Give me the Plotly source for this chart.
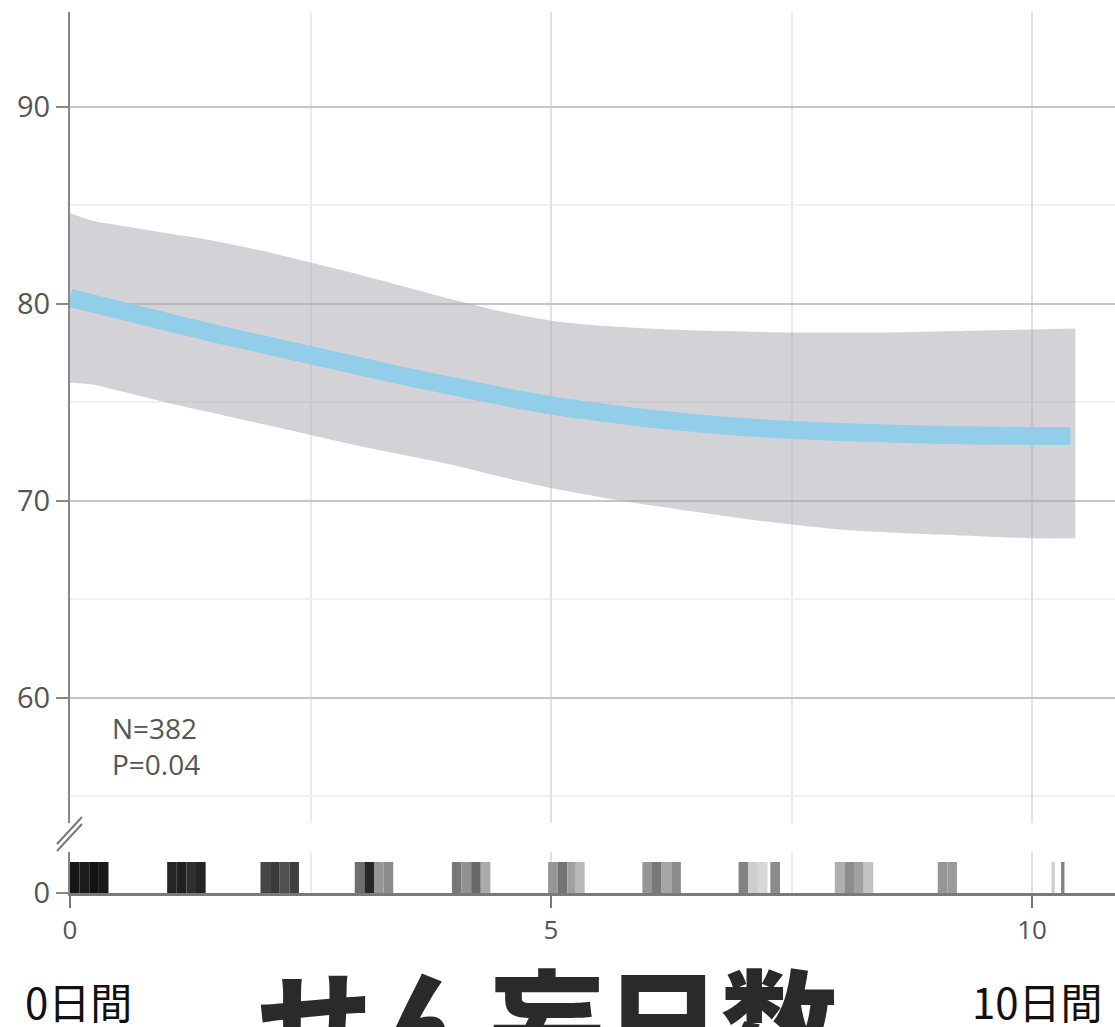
import plotly.graph_objects as go

# Fitted curve (delirium days vs. score) with its confidence band
curve_x = [0, 0.5, 1, 1.5, 2, 2.5, 3, 3.5, 4, 4.5, 5, 5.5, 6, 6.5, 7, 7.5, 8, 8.5, 9, 9.5, 10, 10.4]
curve_y = [80.3, 79.7, 79.1, 78.5, 77.95, 77.4, 76.85, 76.3, 75.8, 75.3, 74.85, 74.5, 74.2, 73.95, 73.75, 73.6, 73.5, 73.42, 73.36, 73.32, 73.3, 73.3]

band_x = [0, 0.25, 0.5, 1, 1.5, 2, 2.5, 3, 3.5, 4, 4.5, 5, 5.5, 6, 6.5, 7, 7.5, 8, 8.5, 9, 9.5, 10, 10.45]
band_upper = [84.6, 84.2, 84.0, 83.6, 83.2, 82.7, 82.1, 81.5, 80.85, 80.2, 79.6, 79.15, 78.9, 78.75, 78.65, 78.6, 78.55, 78.55, 78.55, 78.6, 78.65, 78.7, 78.75]
band_lower = [76.0, 75.9, 75.6, 75.0, 74.45, 73.9, 73.35, 72.8, 72.3, 71.8, 71.2, 70.65, 70.2, 69.8, 69.45, 69.1, 68.8, 68.55, 68.4, 68.3, 68.2, 68.1, 68.1]

# Rug of observed delirium days (strip position, grey level 0=black .. 255=white)
rug_x = [0.05, 0.15, 0.25, 0.35,
         1.06, 1.16, 1.26, 1.36,
         2.03, 2.13, 2.23, 2.33,
         3.01, 3.11, 3.21, 3.31,
         4.02, 4.12, 4.22, 4.32,
         5.02, 5.12, 5.22, 5.30,
         6.00, 6.10, 6.20, 6.30,
         7.00, 7.10, 7.20, 7.33,
         8.00, 8.10, 8.20, 8.30,
         9.07, 9.17,
         10.22, 10.32]
rug_grey = [22, 28, 18, 26,
            38, 32, 48, 36,
            70, 58, 80, 64,
            110, 40, 150, 140,
            120, 145, 105, 170,
            150, 115, 160, 185,
            150, 120, 165, 140,
            130, 205, 215, 140,
            175, 140, 160, 195,
            150, 155,
            205, 130]

y_ticks = [60, 70, 80, 90]
x_ticks = [0, 5, 10]
note_lines = ["N=382", "P=0.04"]
axis_title = "せん妄日数"
x_end_labels = ["0日間", "10日間"]

W, H = 1115, 1027
ML, MT, MB = 70, 12, 134
plot_h = H - MT - MB
plot_w = W - ML


def px(p):
    return (p - ML) / plot_w


def py(p):
    return (H - MB - p) / plot_h


fig = go.Figure()

# confidence band: lower edge, then upper edge filled down to it
fig.add_trace(go.Scatter(
    x=band_x, y=band_lower, mode="lines",
    line=dict(width=0, shape="spline", smoothing=0.6),
    hoverinfo="skip", showlegend=False, xaxis="x", yaxis="y",
))
fig.add_trace(go.Scatter(
    x=band_x, y=band_upper, mode="lines", fill="tonexty",
    fillcolor="rgba(168,168,176,0.5)",
    line=dict(width=0, shape="spline", smoothing=0.6),
    hoverinfo="skip", showlegend=False, xaxis="x", yaxis="y",
))

# fitted curve
fig.add_trace(go.Scatter(
    x=curve_x, y=curve_y, mode="lines",
    line=dict(color="#92cdea", width=18, shape="spline", smoothing=0.8),
    showlegend=False, xaxis="x", yaxis="y",
))

# rug strips
rug_colors = [f"rgb({g},{g},{g})" for g in rug_grey]
rug_widths = [0.1 if x < 10 else 0.035 for x in rug_x]
fig.add_trace(go.Bar(
    x=rug_x, y=[1] * len(rug_x), width=rug_widths,
    marker=dict(color=rug_colors, line=dict(width=0)),
    showlegend=False, xaxis="x", yaxis="y2",
))

sans = "Open Sans, Noto Sans, sans-serif"
tick_font = dict(family=sans, size=29, color="#555")

fig.update_layout(
    width=W, height=H,
    margin=dict(l=ML, r=0, t=MT, b=MB),
    paper_bgcolor="white", plot_bgcolor="white",
    showlegend=False,
    xaxis=dict(
        range=[0, plot_w / 96.2], anchor="y2",
        tickvals=x_ticks, ticks="outside", ticklen=12, tickwidth=2, tickcolor="#777",
        tickfont=dict(family=sans, size=26, color="#555"),
        showline=True, linecolor="#7a7a7a", linewidth=3,
        showgrid=True, gridcolor="#e2e2e2", gridwidth=2,
        minor=dict(tickvals=[2.5, 7.5], showgrid=True, gridcolor="#ebebeb", gridwidth=2),
        zeroline=False, fixedrange=True,
    ),
    yaxis=dict(
        domain=[py(823), 1], range=[53.65, 94.82],
        tickvals=y_ticks, ticks="outside", ticklen=12, tickwidth=2, tickcolor="#888",
        tickfont=tick_font,
        showline=True, linecolor="#888", linewidth=2,
        showgrid=True, gridcolor="#c6c6c6", gridwidth=2,
        minor=dict(tickvals=[55, 65, 75, 85, 95], showgrid=True, gridcolor="#f0f0f0", gridwidth=2),
        zeroline=False, fixedrange=True,
    ),
    yaxis2=dict(
        domain=[0, py(852)], range=[0, 41 / 31],
        tickvals=[0], ticks="outside", ticklen=12, tickwidth=2, tickcolor="#888",
        tickfont=tick_font,
        showline=True, linecolor="#888", linewidth=2,
        showgrid=False, zeroline=False, fixedrange=True,
    ),
)

# axis-break marks between the two y ranges
for dy in (0, -7):
    fig.add_shape(type="line", xref="paper", yref="paper",
                  x0=px(57), y0=py(851 + dy), x1=px(82), y1=py(824 + dy),
                  line=dict(color="#777", width=2))

# N / P note
fig.add_annotation(x=0.42, y=57.55, xref="x", yref="y", text="<br>".join(note_lines),
                   showarrow=False, xanchor="left", yanchor="middle", align="left",
                   font=dict(family=sans, size=28, color="#555"))

# end labels under the x axis
cjk = "Noto Sans CJK JP, sans-serif"
fig.add_annotation(x=px(78), y=py(1000), xref="paper", yref="paper", text=x_end_labels[0],
                   showarrow=False, xanchor="center", yanchor="middle",
                   font=dict(family=cjk, size=42, color="#111"))
fig.add_annotation(x=px(1037), y=py(1000), xref="paper", yref="paper", text=x_end_labels[1],
                   showarrow=False, xanchor="center", yanchor="middle",
                   font=dict(family=cjk, size=42, color="#111"))

# axis title
fig.add_annotation(x=px(547), y=py(1017), xref="paper", yref="paper", text=axis_title,
                   showarrow=False, xanchor="center", yanchor="middle",
                   font=dict(family=cjk, size=116, color="#2a2a2a", weight=900))

fig.write_html("out.html")
